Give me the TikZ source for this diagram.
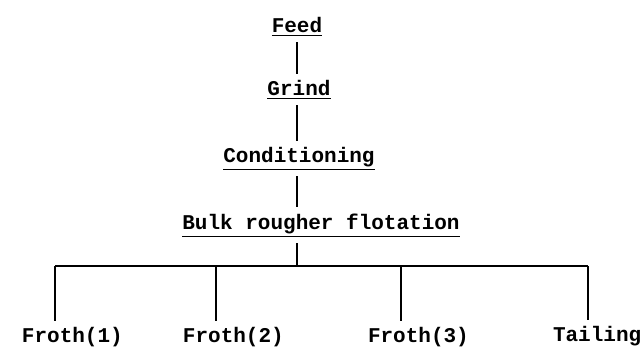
\documentclass[tikz,border=0pt]{standalone}
\usepackage{fontspec}
\setmonofont{Liberation Mono}

\begin{document}
\begin{tikzpicture}[x=0.5pt,y=-0.5pt,
  lbl/.style={font=\ttfamily\bfseries\fontsize{10.5}{12}\selectfont,inner sep=0pt,outer sep=3pt},
  link/.style={line width=0.6pt}]
 \useasboundingbox (0,0) rectangle (644,350);
 % stages
 \node[lbl,anchor=base] (feed) at (297,32) {\underline{Feed}};
 \node[lbl,anchor=base] (grind) at (299,95) {\underline{Grind}};
 \node[lbl,anchor=base] (cond) at (299,162) {\underline{Conditioning}};
 \node[lbl,anchor=base] (bulk) at (321,229) {\underline{Bulk rougher flotation}};
 % products
 \node[lbl,anchor=base west] (froth1) at (16,342) {Froth(1)};
 \node[lbl,anchor=base west] (froth2) at (177,342) {Froth(2)};
 \node[lbl,anchor=base west] (froth3) at (362,342) {Froth(3)};
 \node[lbl,anchor=base west] (tail) at (547,341) {Tailing};
 \coordinate (bus) at (297,266);
 \coordinate (d1) at (55,266);
 \coordinate (d2) at (216,266);
 \coordinate (d3) at (401,266);
 \coordinate (d4) at (588,266);
 % connectors
 \draw[link] (feed.south -| bus) -- (bus |- grind.north);
 \draw[link] (grind.south -| bus) -- (bus |- cond.north);
 \draw[link] (cond.south -| bus) -- (bus |- bulk.north);
 \draw[link] (bulk.south -| bus) -- (bus);
 \draw[link] (d1) -- (d4);
 \draw[link] (d1) -- (d1 |- froth1.north);
 \draw[link] (d2) -- (d2 |- froth2.north);
 \draw[link] (d3) -- (d3 |- froth3.north);
 \draw[link] (d4) -- (d4 |- tail.north);
\end{tikzpicture}
\end{document}
